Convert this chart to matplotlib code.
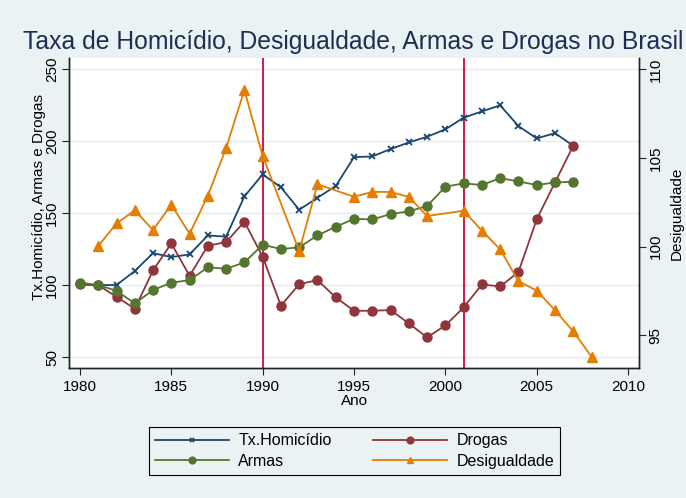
import matplotlib
matplotlib.use('Agg')
import matplotlib.pyplot as plt
import numpy as np

plt.rcParams['font.family'] = ['Liberation Sans', 'DejaVu Sans']

# data
years = list(range(1980, 2008))
homicidio = [100.5, 100.1, 100.1, 109.8, 122.3, 119.5, 121.4, 134.6, 133.7, 161.7,
             177.0, 168.0, 152.4, 160.8, 168.9, 189.0, 189.5, 194.6, 199.2, 203.2,
             208.3, 216.4, 220.8, 225.0, 210.6, 202.0, 205.7, 196.9]
drogas = [100.5, 100.0, 91.9, 83.6, 110.3, 129.0, 106.5, 127.4, 130.0, 144.1,
          119.7, 85.7, 100.7, 103.5, 91.5, 82.2, 82.2, 82.7, 73.4, 63.7,
          72.0, 84.5, 100.5, 99.1, 109.1, 145.7, 171.4, 196.9]
armas = [101.7, 100.1, 96.1, 87.3, 96.6, 101.7, 103.5, 112.4, 111.4, 115.8,
         128.1, 125.1, 126.3, 134.6, 140.6, 146.1, 145.7, 149.4, 151.3, 155.0,
         168.4, 170.8, 169.6, 174.4, 172.1, 169.6, 171.4, 171.9]
des_years = [1981, 1982, 1983, 1984, 1985, 1986, 1987, 1988, 1989, 1990,
             1992, 1993, 1995, 1996, 1997, 1998, 1999, 2001, 2002, 2003,
             2004, 2005, 2006, 2007, 2008]
desigualdade = [100.03, 101.3, 102.04, 100.93, 102.36, 100.72, 102.87, 105.56, 108.83, 105.11,
                99.75, 103.51, 102.81, 103.08, 103.08, 102.8, 101.72, 102.02, 100.89, 99.84,
                98.04, 97.51, 96.4, 95.21, 93.78]
marcos = [1990, 2001]

bg = '#EAF2F3'
navy = '#1A476F'
maroon = '#90353B'
green = '#55752F'
orange = '#E37E00'

fig = plt.figure(figsize=(6.86, 4.98), dpi=100, facecolor=bg)
ax = fig.add_axes([0.1006, 0.261, 0.8309, 0.6225])
ax.set_facecolor('white')
ax2 = ax.twinx()

for x in marcos:
    ax.axvline(x, color='#CC0A3C', lw=1.3, zorder=3)

l1, = ax.plot(years, homicidio, color=navy, lw=1.3, marker='x', ms=4, mew=1.3, label='Tx.Homicídio', zorder=4)
l2, = ax.plot(years, drogas, color=maroon, lw=1.3, marker='o', ms=6.5, label='Drogas', zorder=4)
l3, = ax.plot(years, armas, color=green, lw=1.3, marker='o', ms=6.5, label='Armas', zorder=4)
l4, = ax2.plot(des_years, desigualdade, color=orange, lw=1.3, marker='^', ms=6.5, label='Desigualdade', zorder=4)

ax.set_xlim(1979.4, 2010.6)
ax.set_ylim(42.4, 257.9)
ax2.set_ylim(93.14, 110.64)
ax.set_xticks([1980, 1985, 1990, 1995, 2000, 2005, 2010])
ax.set_yticks([50, 100, 150, 200, 250])
ax2.set_yticks([95, 100, 105, 110])

ax.grid(axis='y', color='#E1EAEE', lw=1)
ax.set_axisbelow(True)

for a in (ax, ax2):
    a.spines['top'].set_visible(False)
    for s in ('left', 'right', 'bottom'):
        a.spines[s].set_color('#222222')
        a.spines[s].set_linewidth(1.0)
    a.tick_params(labelsize=11, length=5, color='#222222')
ax.tick_params(axis='y', labelrotation=90, pad=2)
ax2.tick_params(axis='y', labelrotation=90, pad=2)
for lab in ax.get_yticklabels():
    lab.set_va('center')
for lab in ax2.get_yticklabels():
    lab.set_va('center')

ax.set_xlabel('Ano', fontsize=11, labelpad=0)
fig.text(39 / 686, 1 - 197 / 498, 'Tx.Homicídio, Armas e Drogas', rotation=90,
         ha='center', va='center', fontsize=11)
fig.text(677 / 686, 1 - 213 / 498, 'Desigualdade', rotation=90,
         ha='center', va='center', fontsize=11)

fig.text(0.515, 0.915, 'Taxa de Homicídio, Desigualdade, Armas e Drogas no Brasil',
         ha='center', va='center', fontsize=17.8, color='#1E2D53')

leg = fig.legend([l1, l3, l2, l4], ['Tx.Homicídio', 'Armas', 'Drogas', 'Desigualdade'],
                 loc='center', bbox_to_anchor=(0.517, 0.094), ncol=2, fontsize=11.5,
                 handlelength=4.6, handletextpad=0.6, columnspacing=2.6, labelspacing=0.35,
                 fancybox=False, edgecolor='black', facecolor=bg, framealpha=1,
                 markerscale=0.75)
leg.get_frame().set_linewidth(0.8)

plt.savefig('out.png', dpi=100, facecolor=bg)
